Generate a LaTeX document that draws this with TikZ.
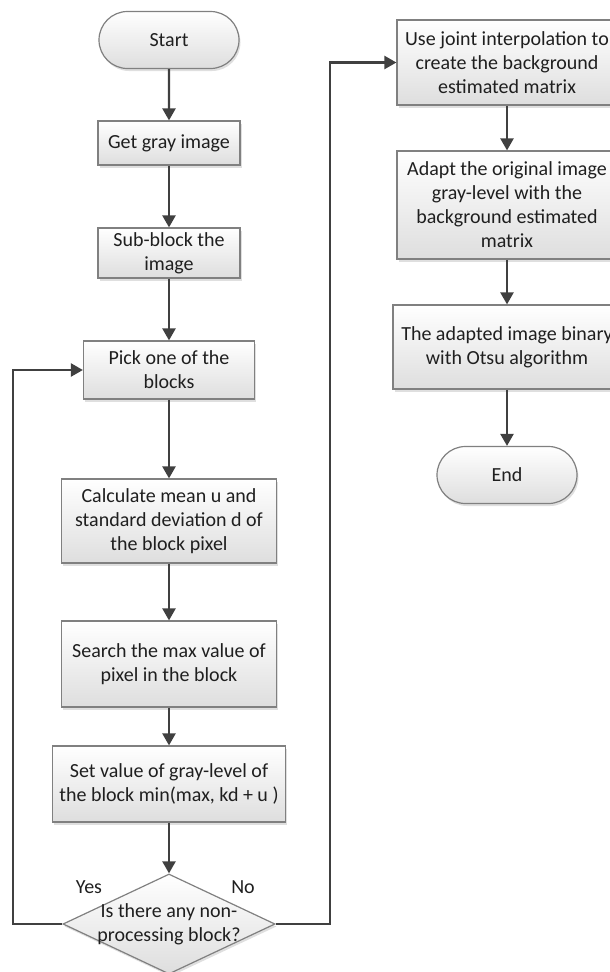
\documentclass[tikz,border=0pt]{standalone}
\usepackage{fontspec}
\setmainfont{Carlito}
\usetikzlibrary{shapes,shadows}
\usetikzlibrary{arrows.meta}
\tikzset{>={Triangle[width=13pt,length=12pt]}}

\begin{document}
\begin{tikzpicture}[x=1pt,y=-1pt]
          \tikzstyle{box} = [draw=black!50, line width=1.2pt, top color=white, bottom color=black!13, drop shadow={shadow xshift=1.5pt, shadow yshift=-2.5pt, opacity=0.25}, align=center, font=\fontsize{20}{24}\selectfont, text=black!88, inner sep=2pt]
          \tikzstyle{term} = [box, rounded rectangle, minimum width=144pt, minimum height=57pt]
          \tikzstyle{decision} = [box, diamond, aspect=2.12, inner xsep=-3pt, inner ysep=-3pt]
          \tikzstyle{flow} = [->, draw=black!75, line width=2.3pt]
          \tikzstyle{tag} = [font=\fontsize{20}{24}\selectfont, text=black!88]
          \useasboundingbox (0,0) rectangle (610,972);

          % left column
          \node[term] (start) at (169, 40) {Start};
          \node[box, minimum width=142pt, minimum height=44pt] (gray) at (169, 143) {Get gray image};
          \node[box, minimum width=142pt, minimum height=50pt] (sub) at (169, 253) {Sub-block the\\image};
          \node[box, minimum width=171pt, minimum height=58pt] (pick) at (169, 370) {Pick one of the\\blocks};
          \node[box, minimum width=215pt, minimum height=84pt] (calc) at (169, 521) {Calculate mean u and\\standard deviation d of\\the block pixel};
          \node[box, minimum width=215pt, minimum height=86pt] (search) at (169, 664) {Search the max value of\\pixel in the block};
          \node[box, minimum width=233pt, minimum height=76pt] (set) at (169, 784) {Set value of gray-level of\\the block min(max, kd + u )};
          \node[decision] (dec) at (169, 924) {Is there any non-\\processing block?};

          % right column
          \node[box, minimum width=220pt, minimum height=85pt] (joint) at (507, 62.5) {Use joint interpolation to\\create the background\\estimated matrix};
          \node[box, minimum width=220pt, minimum height=108pt] (adapt) at (507, 205) {Adapt the original image\\gray-level with the\\background estimated\\matrix};
          \node[box, minimum width=228pt, minimum height=84pt] (otsu) at (507, 347) {The adapted image binary\\with Otsu algorithm};
          \node[term] (end) at (507, 475) {End};

          \node[tag] (yes) at (89, 887) {Yes};
          \node[tag] (no) at (243, 887) {No};

          \coordinate (yesc) at (13, 924);
          \coordinate (noc) at (330, 924);

          \draw[flow] (start) to (gray);
          \draw[flow] (gray) to (sub);
          \draw[flow] (sub) to (pick);
          \draw[flow] (pick) to (calc);
          \draw[flow] (calc) to (search);
          \draw[flow] (search) to (set);
          \draw[flow] (set) to (dec);

          \draw[flow] (dec.west) -- (yesc) |- (pick.west);
          \draw[flow] (dec.east) -- (noc) |- (joint.west);

          \draw[flow] (joint) to (adapt);
          \draw[flow] (adapt) to (otsu);
          \draw[flow] (otsu) to (end);
        \end{tikzpicture}
\end{document}
